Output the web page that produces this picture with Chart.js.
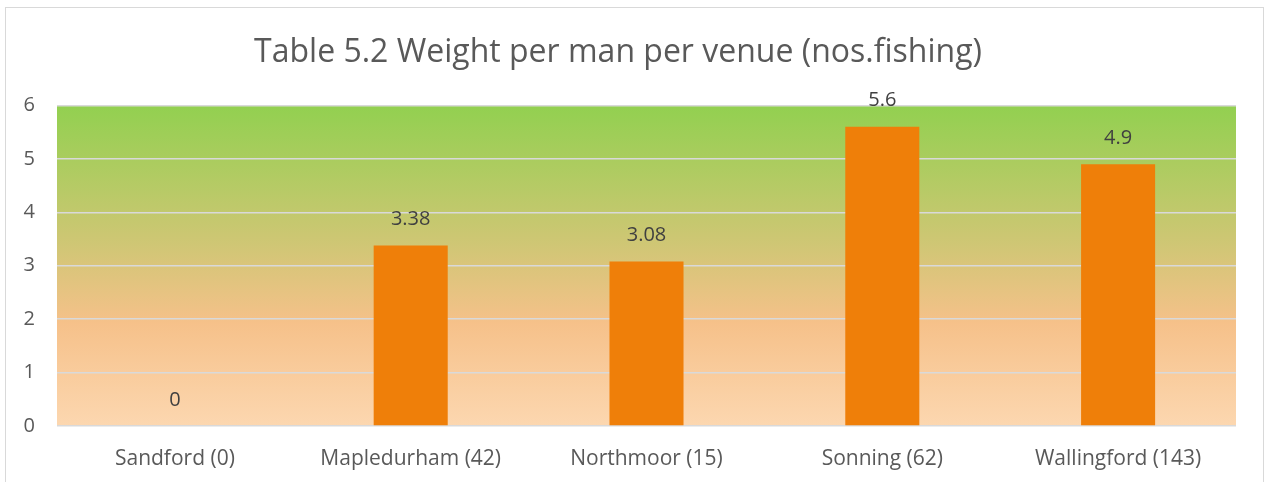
<!DOCTYPE html>
<html>
<head>
<meta charset="utf-8">
<script src="https://cdn.jsdelivr.net/npm/chart.js@4"></script>
<style>
  html, body { margin: 0; padding: 0; background: #fff; }
  #frame { position: absolute; left: 5px; top: 7px; width: 1257px; height: 490px; border: 1px solid #d9d9d9; }
  #wrap { position: absolute; left: 0; top: 0; width: 1264px; height: 482px; }
</style>
</head>
<body>
<div id="frame"></div>
<div id="wrap"><canvas id="chart"></canvas></div>
<script>
const venues = ['Sandford (0)', 'Mapledurham (42)', 'Northmoor (15)', 'Sonning (62)', 'Wallingford (143)'];
const weightPerMan = [0, 3.38, 3.08, 5.6, 4.9];
const yTicks = [0, 1, 2, 3, 4, 5, 6];

const areaGradient = {
    id: 'areaGradient',
    beforeDraw(chart) {
        const { ctx, chartArea: a } = chart;
        const g = ctx.createLinearGradient(0, a.top, 0, a.bottom);
        g.addColorStop(0, '#92d050');
        g.addColorStop(0.45, '#d2c676');
        g.addColorStop(0.68, '#f6c18a');
        g.addColorStop(1, '#fcd7b0');
        ctx.save();
        ctx.fillStyle = g;
        ctx.fillRect(a.left, a.top, a.right - a.left, a.bottom - a.top);
        ctx.restore();
    }
};

const valueLabels = {
    id: 'valueLabels',
    afterDatasetsDraw(chart) {
        const { ctx } = chart;
        const meta = chart.getDatasetMeta(0);
        ctx.save();
        ctx.font = '20px "Open Sans"';
        ctx.fillStyle = '#404040';
        ctx.textAlign = 'center';
        ctx.textBaseline = 'middle';
        meta.data.forEach((bar, i) => {
            ctx.fillText(String(weightPerMan[i]), bar.x, bar.y - 26);
        });
        ctx.restore();
    }
};

new Chart(document.getElementById('chart'), {
    type: 'bar',
    data: {
        labels: venues,
        datasets: [{
            data: weightPerMan,
            backgroundColor: '#ef7f09',
            borderWidth: 0,
            barPercentage: 1,
            categoryPercentage: 0.314
        }]
    },
    options: {
        responsive: true,
        maintainAspectRatio: false,
        animation: false,
        layout: { padding: { left: 0, right: 28, top: 0, bottom: 0 } },
        plugins: {
            legend: { display: false },
            tooltip: { enabled: false },
            title: {
                display: true,
                text: 'Table 5.2 Weight per man per venue (nos.fishing)',
                color: '#595959',
                font: { family: 'Open Sans', size: 32, weight: 'normal' },
                padding: { top: 34, bottom: 33 }
            }
        },
        scales: {
            x: {
                grid: { display: false, drawTicks: false },
                border: { display: false },
                ticks: { color: '#595959', font: { family: 'Open Sans', size: 21 }, padding: 20, maxRotation: 0 },
                afterFit(s) { s.height = 56; }
            },
            y: {
                min: 0, max: 6,
                afterBuildTicks(s) { s.ticks = yTicks.map(v => ({ value: v })); },
                grid: { color: '#d9d9d9', lineWidth: 1.5, drawTicks: false },
                border: { display: false },
                ticks: { color: '#595959', font: { family: 'Open Sans', size: 20 }, padding: 22 },
                afterFit(s) { s.width = 57; }
            }
        }
    },
    plugins: [areaGradient, valueLabels]
});
</script>
</body>
</html>
